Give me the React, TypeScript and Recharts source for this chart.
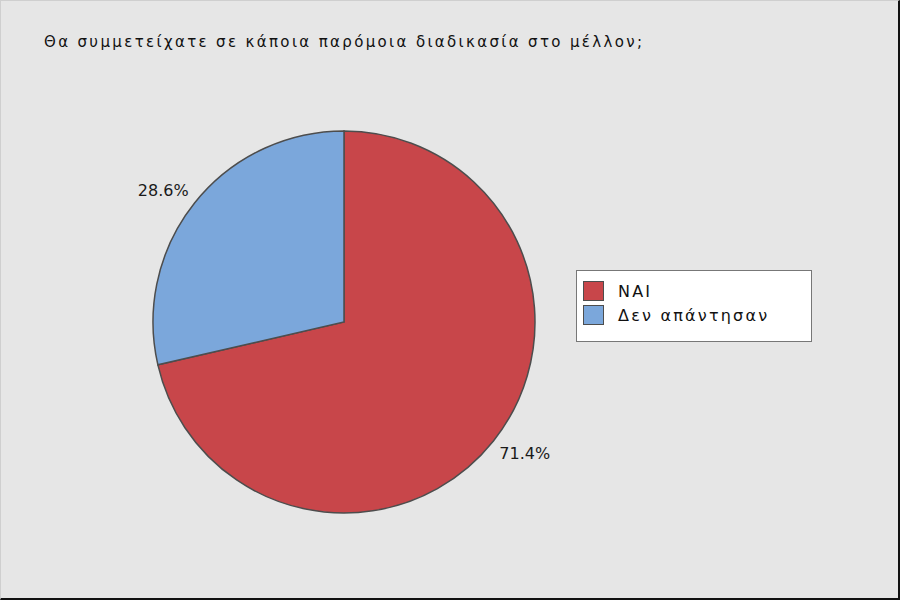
import React from 'react';
import { PieChart, Pie, Cell } from 'recharts';

const title = 'Θα συμμετείχατε σε κάποια παρόμοια διαδικασία στο μέλλον;';
const categories = ['NAI', 'Δεν απάντησαν'];
const shares = [71.4, 28.6];
const colors = ['#C8464A', '#7BA7DB'];

const data = categories.map((name, i) => ({ name, value: shares[i] }));

const RAD = Math.PI / 180;

// labels sit on a slightly flattened ring outside the pie
const renderLabel = (props: any) => {
  const { cx, cy, midAngle, outerRadius, value } = props;
  const x = cx + (outerRadius + 40) * Math.cos(-midAngle * RAD);
  const y = cy + (outerRadius + 20) * Math.sin(-midAngle * RAD);
  return (
    <text
      x={x}
      y={y}
      textAnchor="middle"
      dominantBaseline="central"
      fill="#1a1a1a"
      fontSize={16}
      fontFamily="'DejaVu Sans', sans-serif"
    >
      {`${value.toFixed(1)}%`}
    </text>
  );
};

// legend drawn as plain html so it does not eat into the pie's layout
const LegendBox = () => (
  <div
    style={{
      position: 'absolute',
      left: 575,
      top: 269,
      width: 236,
      height: 72,
      background: '#fff',
      border: '1px solid #777',
      boxSizing: 'border-box',
      padding: '8px 0 0 6px',
      fontFamily: "'DejaVu Sans', sans-serif",
      fontSize: 16,
      letterSpacing: 2.2,
      color: '#111',
    }}
  >
    {categories.map((c, i) => (
      <div key={c} style={{ display: 'flex', alignItems: 'center', height: 24 }}>
        <span
          style={{
            width: 21,
            height: 20,
            background: colors[i],
            border: '1.5px solid #4d4d4d',
            boxSizing: 'border-box',
            marginRight: 14,
          }}
        />
        <span>{c}</span>
      </div>
    ))}
  </div>
);

export default function App() {
  return (
    <div
      style={{
        position: 'absolute',
        top: 0,
        left: 0,
        width: 900,
        height: 600,
        background: '#E6E6E6',
        borderTop: '1px solid #cfcfcf',
        borderLeft: '1px solid #cfcfcf',
        borderRight: '2px solid #111',
        borderBottom: '2px solid #111',
        boxSizing: 'border-box',
      }}
    >
      <div
        style={{
          position: 'absolute',
          left: 43,
          top: 32,
          fontFamily: "'DejaVu Sans', sans-serif",
          fontSize: 15,
          letterSpacing: 2.35,
          color: '#111',
          whiteSpace: 'nowrap',
        }}
      >
        {title}
      </div>
      <PieChart width={897} height={597} margin={{ top: 0, right: 0, bottom: 0, left: 0 }}>
        <Pie
          data={data}
          dataKey="value"
          nameKey="name"
          cx={343}
          cy={321}
          outerRadius={191}
          startAngle={90}
          endAngle={-270}
          stroke="#4d4d4d"
          strokeWidth={1.5}
          label={renderLabel}
          labelLine={false}
          isAnimationActive={false}
        >
          {data.map((d, i) => (
            <Cell key={d.name} fill={colors[i]} />
          ))}
        </Pie>
      </PieChart>
      <LegendBox />
    </div>
  );
}
